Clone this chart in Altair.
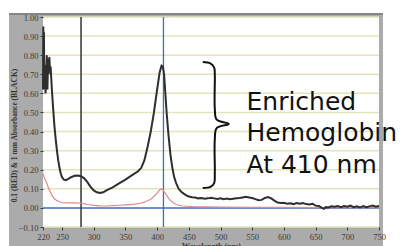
import altair as alt
import pandas as pd

# ---- data ----
black_wl = [220, 220.5, 221, 221.5, 222, 223, 224, 225, 226, 227, 228, 229, 230, 231, 232, 233,
            234, 236, 238, 240, 242, 244, 246, 248, 250, 253, 256, 260, 265, 270, 275, 280, 285,
            290, 295, 300, 305, 310, 315, 320, 330, 340, 350, 360, 370, 375, 380, 385, 390, 395,
            400, 404, 407, 409, 411, 413, 415, 418, 421, 424, 427, 430, 434, 438, 442, 446, 450,
            455, 460, 465, 470, 475, 480, 485, 490, 495, 500, 505, 510, 515, 520, 525, 530, 535,
            540, 545, 550, 555, 560, 565, 570, 575, 580, 585, 590, 595, 600, 605, 610, 615, 620,
            625, 630, 635, 640, 645, 650, 655, 660, 663, 666, 670, 675, 680, 685, 690, 695, 700,
            705, 710, 715, 720, 725, 730, 735, 740, 745, 750]
black_abs = [0.62, 0.95, 0.70, 0.92, 0.62, 0.75, 0.60, 0.70, 0.80, 0.62, 0.78, 0.70, 0.79, 0.72, 0.74, 0.68,
             0.62, 0.52, 0.43, 0.36, 0.30, 0.25, 0.21, 0.18, 0.16, 0.148, 0.145, 0.152, 0.162, 0.168, 0.170, 0.166, 0.155,
             0.135, 0.110, 0.092, 0.082, 0.078, 0.082, 0.092, 0.108, 0.128, 0.148, 0.170, 0.192, 0.210, 0.250, 0.32, 0.40, 0.50,
             0.62, 0.71, 0.745, 0.74, 0.70, 0.60, 0.50, 0.38, 0.28, 0.21, 0.16, 0.13, 0.10, 0.085, 0.075, 0.066, 0.060,
             0.056, 0.054, 0.050, 0.052, 0.048, 0.050, 0.053, 0.050, 0.047, 0.050, 0.046, 0.049, 0.045, 0.048, 0.050, 0.052, 0.055,
             0.058, 0.055, 0.052, 0.046, 0.040, 0.042, 0.052, 0.057, 0.050, 0.038, 0.028, 0.026, 0.027, 0.022, 0.024, 0.020, 0.025,
             0.022, 0.026, 0.020, 0.018, 0.022, 0.012, 0.010, 0.000, -0.005, 0.004, 0.002, 0.008, 0.006, 0.010, 0.004, 0.010, 0.006,
             0.012, 0.004, 0.008, 0.002, 0.010, 0.004, 0.008, 0.012, 0.006, 0.010]

red_wl = [220, 223, 226, 229, 232, 235, 238, 242, 246, 250, 260, 270, 280, 290, 300, 310, 320, 330,
          340, 350, 360, 370, 380, 390, 398, 403, 406, 409, 412, 416, 420, 425, 430, 440, 460, 480,
          500, 550, 600, 650, 700, 750]
red_abs = [0.18, 0.15, 0.13, 0.10, 0.08, 0.06, 0.048, 0.038, 0.032, 0.028, 0.026, 0.027, 0.025, 0.018, 0.013, 0.011, 0.010, 0.012,
           0.014, 0.016, 0.018, 0.022, 0.030, 0.045, 0.070, 0.090, 0.100, 0.095, 0.080, 0.060, 0.042, 0.028, 0.018, 0.010, 0.006, 0.005,
           0.004, 0.003, 0.003, 0.002, 0.002, 0.002]

x_ticks = [220, 250, 300, 350, 400, 450, 500, 550, 600, 650, 700, 750]
y_ticks = [-0.10, 0.00, 0.10, 0.20, 0.30, 0.40, 0.50, 0.60, 0.70, 0.80, 0.90, 1.00]

marker_black_wl = [280]
marker_blue_wl = [410]
zero_level = [0.0]

note_lines = ["Enriched", "Hemoglobin", "At 410 nm"]
note_wl = [541, 541, 541]
note_abs = [0.513, 0.350, 0.183]

brace_wl = [472, 484, 490, 491, 491, 494, 513, 494, 491, 491, 490, 484, 472]
brace_abs = [0.764, 0.757, 0.735, 0.70, 0.52, 0.462, 0.440, 0.418, 0.36, 0.18, 0.13, 0.110, 0.104]

y_title = "0.1 (RED) & 1 mm Absorbance (BLACK)"
x_title = "Wavelength (nm)"

# ---- tables ----
black_df = pd.DataFrame({"wl": black_wl, "abs": black_abs})
red_df = pd.DataFrame({"wl": red_wl, "abs": red_abs})
grid_df = pd.DataFrame({"abs": [v for v in y_ticks if abs(v) > 1e-9]})
note_df = pd.DataFrame({"wl": note_wl, "abs": note_abs, "t": note_lines})
brace_df = pd.DataFrame({"wl": brace_wl, "abs": brace_abs, "i": list(range(len(brace_wl)))})

W, H = 336, 210
xs = alt.Scale(domain=[220, 750], nice=False, zero=False)
ys = alt.Scale(domain=[-0.1, 1.0], nice=False, zero=False)
serif = "Liberation Serif"

x_axis = alt.Axis(values=x_ticks, format="d", labelFont=serif, labelFontSize=8.5, labelColor="#3a3a3a",
                  tickColor="#3a3a3a", tickSize=3, domain=False, grid=False, labelPadding=2,
                  labelOverlap=False, labelFlush=False,
                  title=x_title, titleFont=serif, titleFontSize=8, titleFontWeight="bold",
                  titleColor="#333", titlePadding=2, zindex=1)
y_axis = alt.Axis(values=y_ticks, format=".2f", labelFont=serif, labelFontSize=8.5, labelColor="#3a3a3a",
                  tickColor="#3a3a3a", tickSize=3, domain=False, grid=False, labelPadding=2,
                  labelOverlap=False, labelFlush=False, labelBound=False,
                  title=y_title, titleFont=serif, titleFontSize=7.5, titleFontWeight="bold",
                  titleColor="#333", titleAngle=270, titleBaseline="middle", titleAlign="center",
                  titleX=-29, titleY=118, zindex=1)

X = lambda: alt.X("wl:Q", scale=xs, axis=x_axis)
Y = lambda: alt.Y("abs:Q", scale=ys, axis=y_axis)

frame = alt.Chart(pd.DataFrame({"k": [0]})).mark_rect(color="#ababab").encode(
    x=alt.value(-34), x2=alt.value(340), y=alt.value(-4), y2=alt.value(240))
topline = alt.Chart(pd.DataFrame({"k": [0]})).mark_rule(color="#858585", strokeWidth=2).encode(
    x=alt.value(-34), x2=alt.value(340), y=alt.value(-3))
plotbg = alt.Chart(pd.DataFrame({"k": [0]})).mark_rect(color="white").encode(
    x=alt.value(0), x2=alt.value(W), y=alt.value(0), y2=alt.value(H))

grid = alt.Chart(grid_df).mark_rule(color="#e3e3bd", strokeWidth=1.5).encode(y=Y())
zero = alt.Chart(pd.DataFrame({"abs": zero_level})).mark_rule(color="#3c6cc8", strokeWidth=1.5).encode(y=Y())
vblue = alt.Chart(pd.DataFrame({"wl": marker_blue_wl})).mark_rule(color="#3c6cc8", strokeWidth=1.3).encode(x=X())
vblack = alt.Chart(pd.DataFrame({"wl": marker_black_wl})).mark_rule(color="#333333", strokeWidth=1.5).encode(x=X())

red = alt.Chart(red_df).mark_line(color="#dc8c8c", strokeWidth=1.2).encode(x=X(), y=Y())
black = alt.Chart(black_df).mark_line(color="#2e2e2e", strokeWidth=2).encode(x=X(), y=Y())

brace = alt.Chart(brace_df).mark_line(color="#111111", strokeWidth=2, interpolate="catmull-rom", clip=False).encode(
    x=X(), y=Y(), order="i:Q")

note = alt.Chart(note_df).mark_text(align="left", baseline="alphabetic", font="DejaVu Sans",
                                    fontSize=25, color="#111111", clip=False).encode(
    x=X(), y=Y(), text="t:N")

chart = alt.layer(frame, topline, plotbg, grid, zero, vblue, vblack, red, black, brace, note).properties(
    width=W, height=H, autosize="none",
    padding={"left": 35, "top": 9, "right": 21, "bottom": 19},
    background="white",
).configure_view(stroke=None)

chart.save("out.html", embed_options={"renderer": "svg", "actions": False})
